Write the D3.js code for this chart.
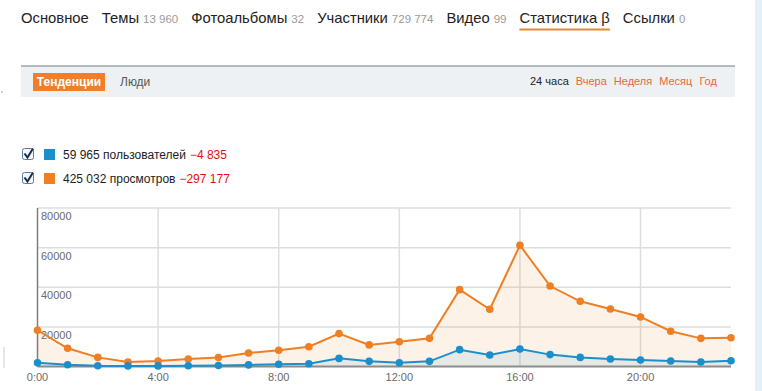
<!DOCTYPE html>
<meta charset="utf-8">
<style>
body { margin: 0; background: #fff; }
svg { display: block; font-family: "Liberation Sans", Arial, Helvetica, sans-serif; }
.grid line { stroke: #dedede; stroke-width: 1.5px; }
.tick-label { font-size: 11px; fill: #6a6a6a; }
</style>
<svg width="762" height="391"></svg>
<script src="https://d3js.org/d3.v7.min.js"></script>
<script>

// --- data ---
var navLabels = ["Основное", "Темы", "Фотоальбомы", "Участники", "Видео", "Статистика β", "Ссылки"];
var navCounts = ["", "13 960", "32", "729 774", "99", "", "0"];
var periods = ["24 часа", "Вчера", "Неделя", "Месяц", "Год"];
var seriesNames = ["59 965 пользователей", "425 032 просмотров"];
var seriesDeltas = ["−4 835", "−297 177"];

var hours = d3.range(0, 24);
var views = [18300, 9200, 4600, 2300, 2800, 3800, 4500, 6800, 8200, 10000, 16600, 10900,
             12500, 14200, 38800, 28900, 61200, 40600, 32900, 29000, 25000, 17800, 14200, 14500];
var users = [1900, 900, 400, 300, 300, 400, 500, 800, 1100, 1400, 4100, 2600,
             1900, 2600, 8500, 5800, 8800, 6000, 4600, 3800, 3300, 2800, 2300, 2900];
var yTicks = [20000, 40000, 60000, 80000];
var xTicks = [0, 4, 8, 12, 16, 20];

var orange = "#ee7f22", blue = "#1b8fcb";

var svg = d3.select("svg");

// right light strip
svg.append("rect").attr("x", 755).attr("y", 0).attr("width", 7).attr("height", 391).attr("fill", "#e4f0f6");
// small leftovers at the left edge
svg.append("circle").attr("cx", 2).attr("cy", 92).attr("r", 0.8).attr("fill", "#999");
svg.append("line").attr("x1", 4).attr("x2", 4).attr("y1", 347).attr("y2", 368).attr("stroke", "#ccc");

// --- top navigation ---
var nav = svg.append("g");
var nx = 21;
navLabels.forEach(function(lab, i) {
  var t = nav.append("text").attr("x", nx).attr("y", 23).attr("font-size", 14.8).attr("fill", "#222").text(lab);
  var w = t.node().getComputedTextLength();
  if (i === 5) {
    nav.append("rect").attr("x", nx).attr("y", 28.5).attr("width", w).attr("height", 2).attr("fill", "#e08a2e");
  }
  nx += w;
  if (navCounts[i]) {
    var c = nav.append("text").attr("x", nx + 4).attr("y", 23).attr("font-size", 11.5).attr("fill", "#9a9a9a").text(navCounts[i]);
    nx += 4 + c.node().getComputedTextLength();
  }
  nx += 13;
});

// --- toolbar ---
svg.append("rect").attr("x", 21).attr("y", 66).attr("width", 714).attr("height", 31).attr("fill", "#edf1f3");
svg.append("line").attr("x1", 21).attr("x2", 735).attr("y1", 66).attr("y2", 66).attr("stroke", "#9ba6ac").attr("stroke-width", 1.5);
svg.append("rect").attr("x", 33).attr("y", 73).attr("width", 72).attr("height", 18).attr("fill", "#ee7f2d");
svg.append("text").attr("x", 69).attr("y", 86).attr("text-anchor", "middle").attr("font-size", 12).attr("font-weight", "bold").attr("fill", "#fff").text("Тенденции");
svg.append("text").attr("x", 120).attr("y", 86).attr("font-size", 12).attr("fill", "#555").text("Люди");

var px = 530;
periods.forEach(function(p, i) {
  var t = svg.append("text").attr("x", px).attr("y", 85).attr("font-size", 11)
    .attr("fill", i === 0 ? "#222" : "#e8683a").text(p);
  px += t.node().getComputedTextLength() + 7;
});

// --- legend ---
var legendColors = [blue, orange];
seriesNames.forEach(function(name, i) {
  var ly = 148 + i * 24;
  var g = svg.append("g").attr("transform", "translate(0," + ly + ")");
  g.append("rect").attr("x", 22.5).attr("y", 0.5).attr("width", 11).attr("height", 11).attr("rx", 2)
    .attr("fill", "#f4f7fb").attr("stroke", "#5a7aa8");
  g.append("path").attr("d", "M24.5,5.5 L27.5,9.5 L33,0.5").attr("fill", "none").attr("stroke", "#1d2a44").attr("stroke-width", 2);
  g.append("rect").attr("x", 44).attr("y", 1).attr("width", 11).attr("height", 11).attr("fill", legendColors[i]);
  var t = g.append("text").attr("x", 63).attr("y", 11).attr("font-size", 12).attr("fill", "#222").text(name);
  g.append("text").attr("x", 63 + t.node().getComputedTextLength() + 4).attr("y", 11).attr("font-size", 12)
    .attr("fill", "#e01010").text(seriesDeltas[i]);
});

// --- chart ---
var x = d3.scaleLinear().domain([0, 23]).range([37.5, 731]);
var y = d3.scaleLinear().domain([0, 80000]).range([366.5, 208]);

var grid = svg.append("g").attr("class", "grid");
grid.selectAll(".h").data(yTicks).enter().append("line")
  .attr("x1", x(0)).attr("x2", x(23)).attr("y1", y).attr("y2", y);
grid.selectAll(".v").data(xTicks.slice(1)).enter().append("line")
  .attr("x1", x).attr("x2", x).attr("y1", y(80000)).attr("y2", y(0));

var area = function(vals) {
  return d3.area().x(function(d, i) { return x(hours[i]); }).y0(y(0)).y1(function(d) { return y(d); })(vals);
};
var line = function(vals) {
  return d3.line().x(function(d, i) { return x(hours[i]); }).y(function(d) { return y(d); })(vals);
};

svg.append("path").attr("d", area(views)).attr("fill", "rgba(238,127,34,0.1)");
svg.append("path").attr("d", area(users)).attr("fill", "rgba(27,143,203,0.1)");

// axes
svg.append("line").attr("x1", x(0)).attr("x2", x(23)).attr("y1", y(0)).attr("y2", y(0)).attr("stroke", "#8c8c8c").attr("stroke-width", 2);
svg.append("line").attr("x1", x(0)).attr("x2", x(0)).attr("y1", y(80000)).attr("y2", y(0)).attr("stroke", "#7d7d7d").attr("stroke-width", 1.5);

svg.selectAll(".ylab").data(yTicks).enter().append("text").attr("class", "tick-label")
  .attr("x", x(0) + 3.5).attr("y", function(d) { return y(d) + 12; }).text(function(d) { return d; });
svg.selectAll(".xlab").data(xTicks).enter().append("text").attr("class", "tick-label")
  .attr("x", x).attr("y", 381).attr("text-anchor", "middle").text(function(d) { return d + ":00"; });

[[views, orange], [users, blue]].forEach(function(s) {
  svg.append("path").attr("d", line(s[0])).attr("fill", "none").attr("stroke", s[1]).attr("stroke-width", 2);
  svg.append("g").selectAll("circle").data(s[0]).enter().append("circle")
    .attr("cx", function(d, i) { return x(hours[i]); }).attr("cy", y).attr("r", 3.8).attr("fill", s[1]);
});

</script>
